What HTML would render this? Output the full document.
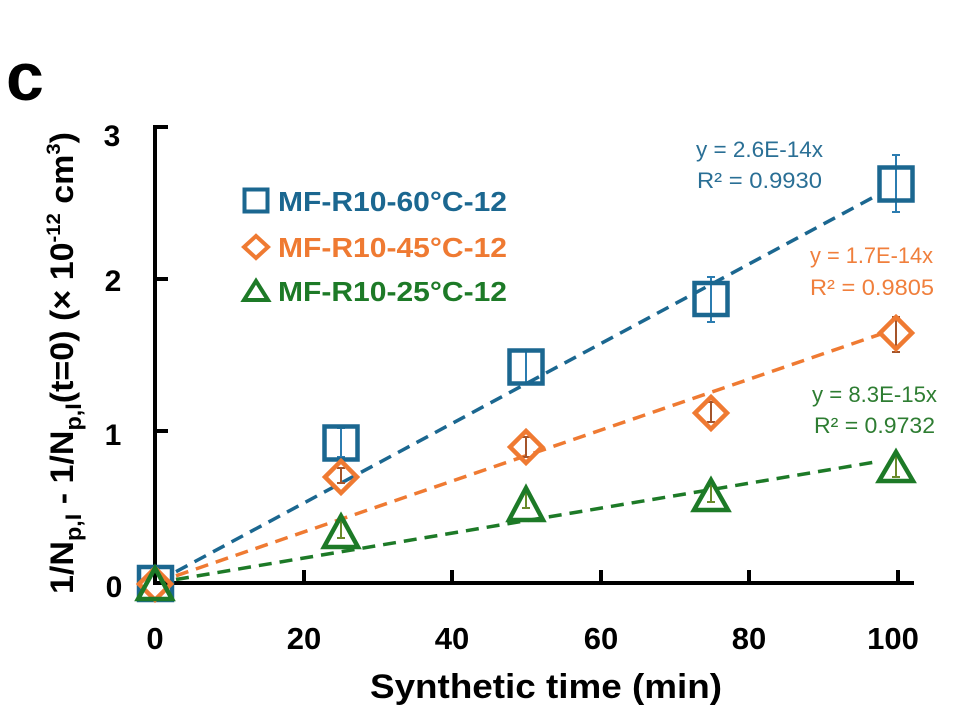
<!DOCTYPE html>
<html><head><meta charset="utf-8"><style>
html,body{margin:0;padding:0;background:#fff;}
svg{display:block;}
text{font-family:"Liberation Sans",Arial,sans-serif;}
</style></head><body>
<svg width="955" height="717" viewBox="0 0 955 717" xmlns="http://www.w3.org/2000/svg">
<rect width="955" height="717" fill="#fff"/>
<!-- panel label -->
<text x="6" y="100" font-size="68" font-weight="bold" fill="#000">c</text>

<!-- axes -->
<g stroke="#000" stroke-width="4" fill="none">
  <line x1="155" y1="125" x2="155" y2="585"/>
  <line x1="153" y1="583" x2="914" y2="583"/>
  <line x1="155" y1="127" x2="168" y2="127"/>
  <line x1="155" y1="279" x2="168" y2="279"/>
  <line x1="155" y1="431" x2="168" y2="431"/>
  <line x1="304" y1="583" x2="304" y2="570"/>
  <line x1="452" y1="583" x2="452" y2="570"/>
  <line x1="601" y1="583" x2="601" y2="570"/>
  <line x1="749" y1="583" x2="749" y2="570"/>
  <line x1="898" y1="583" x2="898" y2="570"/>
</g>

<!-- y tick labels -->
<g font-size="30" font-weight="bold" fill="#000" text-anchor="middle">
  <text x="112" y="146">3</text>
  <text x="113" y="291">2</text>
  <text x="113" y="445">1</text>
  <text x="114" y="597">0</text>
</g>
<!-- x tick labels -->
<g font-size="31" font-weight="bold" fill="#000" text-anchor="middle">
  <text x="155" y="649">0</text>
  <text x="304" y="649">20</text>
  <text x="452" y="649">40</text>
  <text x="601" y="649">60</text>
  <text x="749" y="649">80</text>
  <text x="893" y="649">100</text>
</g>
<!-- x axis title -->
<text x="370" y="698" font-size="34" font-weight="bold" fill="#000" textLength="352" lengthAdjust="spacingAndGlyphs">Synthetic time (min)</text>

<!-- y axis title -->
<text transform="translate(73,594) rotate(-90)" font-size="32" font-weight="bold" fill="#000" textLength="462" lengthAdjust="spacingAndGlyphs">1/N<tspan font-size="22" dy="8">p,I</tspan><tspan dy="-8"> - 1/N</tspan><tspan font-size="22" dy="8">p,I</tspan><tspan dy="-8">(t=0) (× 10</tspan><tspan font-size="19" dy="-13">-12</tspan><tspan dy="13"> cm</tspan><tspan font-size="19" dy="-13">3</tspan><tspan dy="13">)</tspan></text>

<!-- trend lines -->
<g stroke-width="3.5" fill="none" stroke-dasharray="13 8">
  <line x1="176" y1="571.7" x2="879" y2="194.2" stroke="#1b6790"/>
  <line x1="176" y1="575.8" x2="880" y2="334.3" stroke="#ef7a32"/>
  <line x1="176" y1="579.5" x2="879" y2="461.4" stroke="#1d7a27"/>
</g>

<!-- error bars -->
<g stroke-width="2" fill="none">
  <g stroke="#2b7cb0">
    <path d="M341 428V457M337 428H345M337 457H345"/>
    <path d="M526 350V384M522 350H530M522 384H530"/>
    <path d="M711 277V322M707 277H715M707 322H715"/>
    <path d="M896 155V212M892 155H900M892 212H900"/>
  </g>
  <g stroke="#a4542a">
    <path d="M341 468V483M337 468H345M337 483H345"/>
    <path d="M526 437V457M522 437H530M522 457H530"/>
    <path d="M711 402V422M707 402H715M707 422H715"/>
    <path d="M896 317V352M892 317H900M892 352H900"/>
  </g>
  <g stroke="#6a8a2a">
    <path d="M341 522V538M337 522H345M337 538H345"/>
    <path d="M526 493V508M522 493H530M522 508H530"/>
    <path d="M711 486V502M707 486H715M707 502H715"/>
    <path d="M896 457V477M892 457H900M892 477H900"/>
  </g>
</g>

<!-- blue squares -->
<g stroke="#1b6790" stroke-width="4.5" fill="none">
  <rect x="139" y="567" width="33" height="33"/>
  <rect x="324.5" y="426.5" width="33" height="33"/>
  <rect x="509.5" y="350.5" width="33" height="33"/>
  <rect x="694.5" y="283" width="33" height="32"/>
  <rect x="879.5" y="167.5" width="33" height="33"/>
</g>
<!-- orange diamonds -->
<g stroke="#ef7a32" stroke-width="4.5" fill="none" stroke-linejoin="miter">
  <path d="M155 568L171 584L155 600L139 584Z"/>
  <path d="M341 461L357 477L341 493L325 477Z"/>
  <path d="M526 431L542 447L526 463L510 447Z"/>
  <path d="M711 397L727 413L711 429L695 413Z"/>
  <path d="M896 317L912 333L896 349L880 333Z"/>
</g>
<!-- green triangles -->
<g stroke="#1d7a27" stroke-width="4.5" fill="none" stroke-linejoin="miter">
  <path d="M155 568L172 599L138 599Z"/>
  <path d="M341 516L358 547L324 547Z"/>
  <path d="M526 488L543 520L509 520Z"/>
  <path d="M711 480L728 510L694 510Z"/>
  <path d="M896 452L913 481L879 481Z"/>
</g>

<!-- legend -->
<rect x="244.5" y="189.5" width="23" height="22" stroke="#1b6790" stroke-width="4" fill="none"/>
<path d="M256 236L268 247L256 258L244 247Z" stroke="#ef7a32" stroke-width="4" fill="none"/>
<path d="M256 281L268 300L244 300Z" stroke="#1d7a27" stroke-width="4" fill="none"/>
<g font-size="28" font-weight="bold">
  <text x="278" y="211" fill="#1b6790" textLength="229" lengthAdjust="spacingAndGlyphs">MF-R10-60°C-12</text>
  <text x="278" y="257" fill="#ef7a32" textLength="229" lengthAdjust="spacingAndGlyphs">MF-R10-45°C-12</text>
  <text x="278" y="301" fill="#1d7a27" textLength="229" lengthAdjust="spacingAndGlyphs">MF-R10-25°C-12</text>
</g>

<!-- equations -->
<g font-size="22">
  <text x="696" y="157" fill="#2a6f95" textLength="127" lengthAdjust="spacingAndGlyphs">y = 2.6E-14x</text>
  <text x="697" y="188" fill="#2a6f95" textLength="125" lengthAdjust="spacingAndGlyphs">R² = 0.9930</text>
  <text x="810" y="263" fill="#f07f3c" textLength="123" lengthAdjust="spacingAndGlyphs">y = 1.7E-14x</text>
  <text x="810" y="295" fill="#f07f3c" textLength="124" lengthAdjust="spacingAndGlyphs">R² = 0.9805</text>
  <text x="812" y="402" fill="#2e7d32" textLength="125" lengthAdjust="spacingAndGlyphs">y = 8.3E-15x</text>
  <text x="814" y="433" fill="#2e7d32" textLength="121" lengthAdjust="spacingAndGlyphs">R² = 0.9732</text>
</g>
</svg>
</body></html>
